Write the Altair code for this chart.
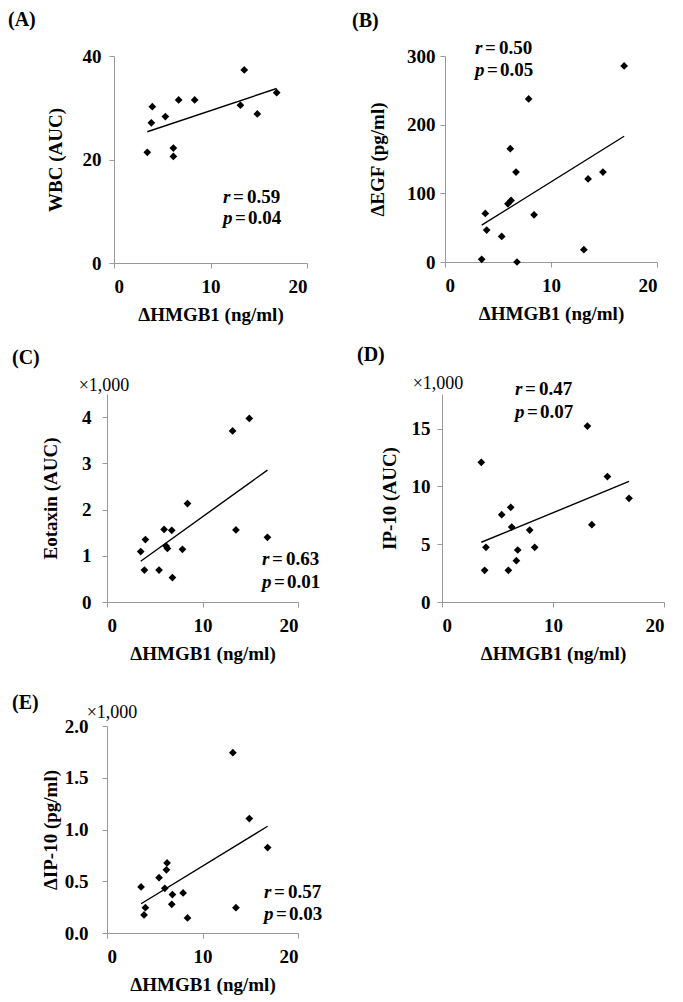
import altair as alt
import pandas as pd

# ---- data ----
a_x = [3.45, 3.87, 3.97, 5.32, 6.15, 6.15, 6.70, 8.36, 13.1, 13.5, 14.85, 16.86]
a_y = [21.4, 27.1, 30.2, 28.3, 22.2, 20.6, 31.5, 31.5, 30.5, 37.3, 28.8, 32.9]

b_x = [3.46, 3.80, 3.93, 5.35, 5.94, 6.16, 6.23, 6.70, 6.79, 7.89, 8.40, 13.1, 13.5, 14.9, 16.9]
b_y = [3.9, 70.8, 46.5, 37.3, 84.8, 165, 89.7, 131, 0, 237.5, 68.8, 17.9, 121, 131, 285.5]

c_x = [3.53, 3.92, 4.02, 5.45, 5.98, 6.19, 6.33, 6.78, 6.85, 7.90, 8.43, 13.15, 13.5, 14.9, 16.8]
c_y = [1.09, 0.69, 1.35, 0.69, 1.57, 1.21, 1.16, 1.55, 0.53, 1.14, 2.13, 3.70, 1.56, 3.97, 1.40]

d_x = [3.54, 3.84, 3.96, 5.38, 5.98, 6.19, 6.28, 6.70, 6.82, 7.90, 8.35, 13.1, 13.5, 14.9, 16.85]
d_y = [12.09, 2.74, 4.73, 7.56, 2.74, 8.19, 6.49, 3.58, 4.50, 6.23, 4.73, 15.23, 6.69, 10.85, 8.97]

e_x = [3.57, 3.88, 4.02, 5.45, 6.05, 6.22, 6.29, 6.78, 6.85, 7.97, 8.43, 13.18, 13.5, 14.9, 16.82]
e_y = [0.445, 0.174, 0.245, 0.535, 0.432, 0.61, 0.677, 0.277, 0.371, 0.387, 0.145, 1.742, 0.245, 1.106, 0.826]

x_title = "\u0394HMGB1 (ng/ml)"
x_ticks = [0, 10, 20]

FONT = "Liberation Serif"


def panel(label, xs, ys, ytitle, ydomain, yticks, yfmt, r_txt, p_txt,
          width, height, lab_pos, ann_pos, ytitle_x, ylabpad, mult_pos=None,
          hidden=None, shift=0):
    df = pd.DataFrame({"x": xs, "y": ys})
    base = alt.Chart(df)
    xscale = alt.Scale(domain=[0, 20], nice=False)
    if shift:
        xscale = alt.Scale(domain=[0, 20], nice=False, range=[shift, shift + width])
    xenc = alt.X("x:Q", title=x_title, scale=xscale,
                 axis=alt.Axis(values=x_ticks, format="d", labelPadding=9,
                               titlePadding=9))
    yaxis = dict(values=yticks, format=yfmt, labelPadding=ylabpad,
                 titleX=ytitle_x, titleY=height / 2, titleBaseline="bottom")
    if shift:
        yaxis["offset"] = -shift
    yenc = alt.Y("y:Q", title=ytitle,
                 scale=alt.Scale(domain=ydomain, nice=False),
                 axis=alt.Axis(**yaxis))
    pts = base.mark_point(shape="diamond", filled=True, color="black",
                          size=60, opacity=1).encode(x=xenc, y=yenc)
    line = base.transform_regression("x", "y").mark_line(
        color="black", strokeWidth=1.4).encode(x="x:Q", y="y:Q")

    def txt(t, x, y, align="left", baseline="alphabetic", style="normal",
            weight="bold", size=19, opacity=1):
        return alt.Chart(pd.DataFrame({"t": [t]})).mark_text(
            align=align, baseline=baseline, font=FONT, fontSize=size,
            fontStyle=style, fontWeight=weight, color="black", opacity=opacity
        ).encode(x=alt.value(x + shift), y=alt.value(y), text="t:N")

    layers = [line, pts]
    layers.append(txt(label, lab_pos[0], lab_pos[1], baseline="middle", size=20))
    if hidden is not None:
        layers.append(txt(".", hidden[0], hidden[1], baseline="middle",
                          size=10, opacity=0))
    ax, ry, py = ann_pos
    layers.append(txt("r", ax, ry, style="italic"))
    layers.append(txt("=", ax + 10, ry))
    layers.append(txt(r_txt, ax + 24, ry))
    layers.append(txt("p", ax, py, style="italic"))
    layers.append(txt("=", ax + 12, py))
    layers.append(txt(p_txt, ax + 25, py))
    if mult_pos is not None:
        layers.append(txt("\u00d71,000", mult_pos[0], mult_pos[1],
                          align="center", weight="normal", size=18))
    return alt.layer(*layers).properties(width=width + shift, height=height)


A = panel("(A)", a_x, a_y, "WBC (AUC)", [0, 40], [0, 20, 40], "d",
          "0.59", "0.04", 193, 207, (-106, -36), (109, 147, 168), -49, 8, shift=7)
B = panel("(B)", b_x, b_y, "\u0394EGF (pg/ml)", [0, 300], [0, 100, 200, 300], "d",
          "0.50", "0.05", 212, 206, (-93, -35), (30, -2, 20), -58, 5)
C = panel("(C)", c_x, c_y, "Eotaxin (AUC)", [0, 4.5], [0, 1, 2, 3, 4], "d",
          "0.63", "0.01", 191, 208, (-95, -36), (155, 171, 194), -47, 11,
          (-3, -3), hidden=(-99, -36))
D = panel("(D)", d_x, d_y, "IP-10 (AUC)", [0, 18], [0, 5, 10, 15], "d",
          "0.47", "0.07", 222, 208, (-85, -39), (73, 1, 24), -43, 7, (-4, -5))
E = panel("(E)", e_x, e_y, "\u0394IP-10 (pg/ml)", [0, 2], [0, 0.5, 1, 1.5, 2], ".1f",
          "0.57", "0.03", 191, 207, (-95, -23), (157, 172, 194), -47, 14, (5, -8),
          hidden=(-99, -37))

row1 = alt.hconcat(A, B, spacing=44)
row2 = alt.hconcat(C, D, spacing=36)
chart = alt.ConcatChart(
    concat=[row1, row2, E], columns=1, align="none", spacing=21
).properties(
    padding={"left": 0, "top": 2, "right": 5, "bottom": 5}
).configure_view(stroke=None).configure_axis(
    labelFont=FONT, labelFontSize=19, labelFontWeight="bold", labelColor="black",
    titleFont=FONT, titleFontSize=19, titleFontWeight="bold", titleColor="black",
    domainColor="#999999", tickColor="#999999", tickSize=5, grid=False,
    labelPadding=5, titlePadding=9
).configure_axisX(labelAngle=0)

chart.save("out.html", embed_options={"renderer": "svg", "actions": False})
